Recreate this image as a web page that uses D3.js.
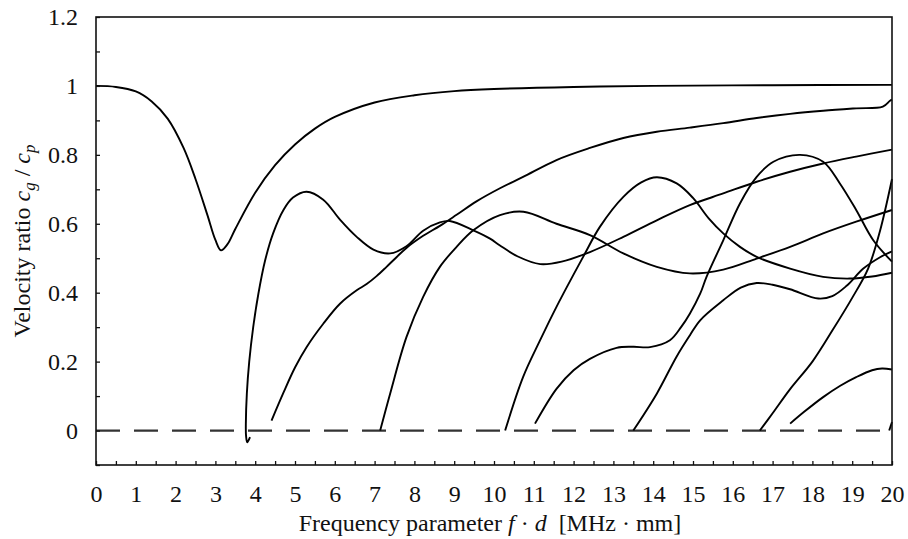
<!DOCTYPE html>
<html>
<head>
<meta charset="utf-8">
<script src="https://cdn.jsdelivr.net/npm/d3@7"></script>
<style>
  html, body { margin: 0; padding: 0; background: #fff; }
  svg { display: block; }
  text { font-family: "Liberation Serif", "Times New Roman", serif; fill: #111; }
</style>
</head>
<body>
<svg id="chart" width="908" height="539"></svg>
<script>
// ---- data (frequency-thickness f·d [MHz·mm], velocity ratio cg/cp) ----
const mode1 = [[0,1.0],[0.5,0.997],[1,0.984],[1.4,0.955],[1.8,0.905],[2.2,0.82],[2.5,0.73],[2.8,0.625],[3.0,0.553],[3.14,0.523],[3.3,0.54],[3.5,0.585],[4,0.69],[4.5,0.77],[5,0.83],[5.5,0.876],[6,0.91],[7,0.952],[8,0.973],[9,0.985],[10,0.991],[12,0.997],[14,1.0],[17,1.002],[20,1.003]];
const mode2 = [[4.41,0.029],[4.71,0.11],[5.0,0.183],[5.29,0.242],[5.71,0.31],[6.13,0.368],[6.55,0.407],[6.8,0.425],[7.05,0.448],[7.3,0.475],[7.55,0.503],[7.8,0.53],[8.22,0.565],[8.64,0.594],[9.06,0.626],[9.56,0.665],[10.15,0.703],[10.73,0.736],[11.57,0.785],[12.41,0.82],[13.25,0.849],[14.09,0.867],[14.92,0.879],[15.76,0.892],[16.6,0.907],[17.44,0.919],[18.27,0.928],[19.1,0.935],[19.77,0.94],[19.95,0.957],[20,0.96]];
const mode3 = [[3.87,-0.019],[3.80,-0.034],[3.77,-0.015],[3.765,0.02],[3.79,0.107],[3.85,0.2],[3.95,0.3],[4.08,0.397],[4.25,0.494],[4.45,0.572],[4.71,0.64],[4.95,0.676],[5.29,0.693],[5.71,0.67],[6.13,0.612],[6.55,0.562],[6.97,0.525],[7.39,0.514],[7.8,0.535],[8.22,0.58],[8.64,0.604],[8.89,0.608],[9.48,0.581],[9.9,0.557],[10.15,0.537],[10.6,0.505],[11.16,0.483],[11.7,0.49],[12.41,0.518],[13.25,0.562],[14.09,0.61],[14.92,0.654],[15.76,0.688],[16.6,0.722],[17.44,0.751],[18.27,0.775],[19.1,0.795],[20,0.815]];
const mode4 = [[7.14,0.0],[7.39,0.107],[7.8,0.271],[8.22,0.388],[8.64,0.475],[9.06,0.533],[9.48,0.581],[10.15,0.625],[10.74,0.635],[11.57,0.6],[12.41,0.567],[13.25,0.514],[14.09,0.475],[14.92,0.456],[15.76,0.467],[16.6,0.499],[17.44,0.533],[18.27,0.572],[19.1,0.606],[20,0.64]];
const mode5 = [[10.28,0.0],[10.73,0.155],[11.15,0.26],[11.57,0.359],[12.24,0.504],[12.66,0.591],[13.25,0.678],[13.7,0.72],[14.09,0.735],[14.59,0.717],[15.0,0.675],[15.4,0.615],[15.76,0.572],[16.18,0.533],[16.6,0.504],[17.44,0.47],[18.27,0.446],[18.94,0.441],[19.5,0.447],[20,0.458]];
const mode6 = [[11.03,0.02],[11.57,0.121],[12.0,0.175],[12.41,0.208],[13.08,0.24],[13.5,0.243],[13.92,0.242],[14.42,0.262],[14.7,0.3],[14.92,0.339],[15.18,0.397],[15.34,0.446],[15.76,0.552],[16.18,0.659],[16.6,0.736],[17.02,0.78],[17.69,0.8],[18.27,0.78],[18.69,0.717],[19.1,0.64],[19.53,0.552],[20,0.49]];
const mode7 = [[13.5,0.0],[14.09,0.107],[14.59,0.215],[14.92,0.276],[15.18,0.32],[15.76,0.378],[16.2,0.415],[16.6,0.428],[17.0,0.423],[17.44,0.41],[18.15,0.383],[18.5,0.39],[18.86,0.42],[19.28,0.47],[19.7,0.503],[20,0.52]];
const mode8 = [[16.68,0.0],[17.0,0.05],[17.44,0.12],[18.0,0.2],[18.5,0.29],[19.0,0.385],[19.4,0.47],[19.7,0.58],[20,0.73]];
const mode9 = [[17.44,0.02],[17.8,0.055],[18.27,0.097],[18.7,0.13],[19.1,0.155],[19.5,0.175],[19.75,0.18],[20,0.177]];
const mode10 = [[19.93,0.0],[20,0.025]];
const modes = [mode1, mode2, mode3, mode4, mode5, mode6, mode7, mode8, mode9, mode10];
const zeroLine = [[0,0],[20,0]];

const xTickLabels = d3.range(0, 21, 1);
const xMinorTicks = d3.range(0, 20.01, 0.5);
const yTickLabels = [0, 0.2, 0.4, 0.6, 0.8, 1, 1.2];
const yMinorTicks = d3.range(-0.1, 1.201, 0.1).map(v => +v.toFixed(2));

// ---- layout ----
const svg = d3.select("#chart");
const L = 96, R = 892, T = 17, B = 465;
const x = d3.scaleLinear().domain([0, 20]).range([L, R]);
const y = d3.scaleLinear().domain([-0.1, 1.2]).range([B, T]);

const g = svg.append("g");

// dashed zero line
const line = d3.line().x(d => x(d[0])).y(d => y(d[1]));
g.append("path").datum(zeroLine).attr("d", line)
  .attr("fill", "none").attr("stroke", "#333").attr("stroke-width", 2.3)
  .attr("stroke-dasharray", "24,14");

// curves
const curve = d3.line().x(d => x(d[0])).y(d => y(d[1])).curve(d3.curveCatmullRom.alpha(0.5));
g.selectAll("path.mode").data(modes).join("path").attr("class", "mode")
  .attr("d", curve).attr("fill", "none").attr("stroke", "#000")
  .attr("stroke-width", 1.9).attr("stroke-linejoin", "round");

// ticks (inward)
const xTicks = svg.append("g").attr("transform", `translate(0,${B})`)
  .call(d3.axisBottom(x).tickValues(xMinorTicks).tickSize(-4).tickFormat(""));
const yTicks = svg.append("g").attr("transform", `translate(${L},0)`)
  .call(d3.axisLeft(y).tickValues(yMinorTicks).tickSize(-4).tickFormat(""));
[xTicks, yTicks].forEach(a => {
  a.select(".domain").remove();
  a.selectAll("line").attr("stroke", "#111").attr("stroke-width", 1.3);
});

// labels
const xLab = svg.append("g").attr("transform", `translate(0,${B})`)
  .call(d3.axisBottom(x).tickValues(xTickLabels).tickSize(0).tickPadding(20).tickFormat(d3.format("d")));
const yLab = svg.append("g").attr("transform", `translate(${L},0)`)
  .call(d3.axisLeft(y).tickValues(yTickLabels).tickSize(0).tickPadding(18).tickFormat(d => d === 0 ? "0" : d === 1 ? "1" : d3.format(".1f")(d)));
[xLab, yLab].forEach(a => {
  a.select(".domain").remove();
  a.selectAll("text").attr("font-size", 24).attr("font-family", "Liberation Serif, serif").attr("fill", "#111");
});

// frame
svg.append("rect").attr("x", L).attr("y", T).attr("width", R - L).attr("height", B - T)
  .attr("fill", "none").attr("stroke", "#111").attr("stroke-width", 1.6);

// x title
const xt = svg.append("text").attr("x", (L + R) / 2 - 4).attr("y", 531)
  .attr("text-anchor", "middle").attr("font-size", 24);
xt.append("tspan").text("Frequency parameter ");
xt.append("tspan").attr("font-style", "italic").text("f");
xt.append("tspan").text(" · ");
xt.append("tspan").attr("font-style", "italic").text("d");
xt.append("tspan").text("\u00A0 [MHz · mm]");

// y title
const yt = svg.append("text").attr("transform", `translate(30,${(T + B) / 2}) rotate(-90)`)
  .attr("text-anchor", "middle").attr("font-size", 24);
yt.append("tspan").text("Velocity ratio ");
yt.append("tspan").attr("font-style", "italic").text("c");
yt.append("tspan").attr("font-style", "italic").attr("font-size", 17).attr("dy", 5).text("g");
yt.append("tspan").attr("dy", -5).text(" / ");
yt.append("tspan").attr("font-style", "italic").text("c");
yt.append("tspan").attr("font-style", "italic").attr("font-size", 17).attr("dy", 5).text("p");
</script>
</body>
</html>
